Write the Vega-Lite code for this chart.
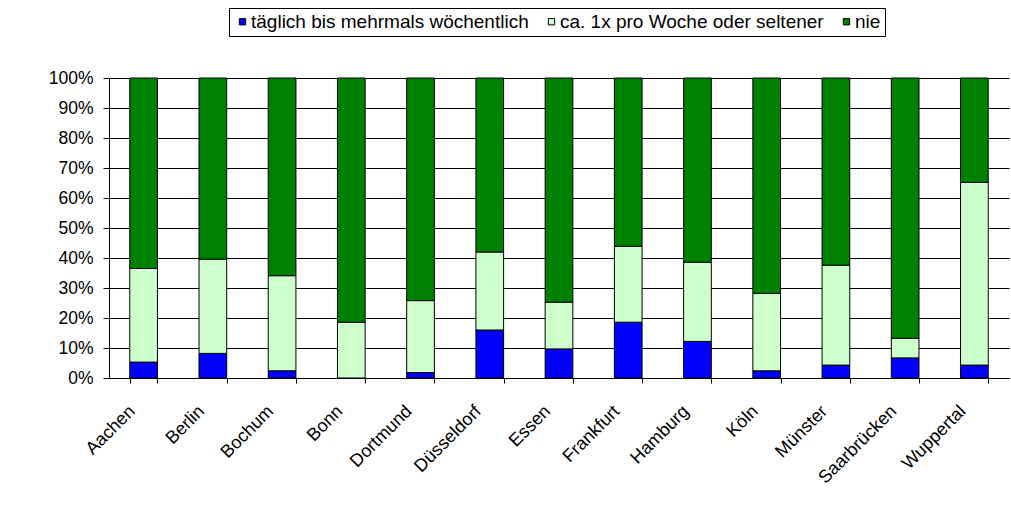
{
  "$schema": "https://vega.github.io/schema/vega-lite/v6.json",
  "width": 900,
  "height": 300,
  "autosize": {"type": "none"},
  "padding": {"left": 109, "top": 78, "right": 2, "bottom": 129},
  "background": "white",
  "config": {
    "font": "Liberation Sans",
    "view": {"stroke": null},
    "axis": {
      "labelFont": "Liberation Sans",
      "labelFontSize": 17.5,
      "labelColor": "black",
      "domainColor": "black",
      "tickColor": "black",
      "gridColor": "black",
      "gridOpacity": 1,
      "title": null
    }
  },
  "data": {
    "values": [
      {"stadt": "Aachen", "kat": "täglich bis mehrmals wöchentlich", "k": 1, "wert": 5.3},
      {"stadt": "Aachen", "kat": "ca. 1x pro Woche oder seltener", "k": 2, "wert": 31.2},
      {"stadt": "Aachen", "kat": "nie", "k": 3, "wert": 63.5},
      {"stadt": "Berlin", "kat": "täglich bis mehrmals wöchentlich", "k": 1, "wert": 8.2},
      {"stadt": "Berlin", "kat": "ca. 1x pro Woche oder seltener", "k": 2, "wert": 31.4},
      {"stadt": "Berlin", "kat": "nie", "k": 3, "wert": 60.4},
      {"stadt": "Bochum", "kat": "täglich bis mehrmals wöchentlich", "k": 1, "wert": 2.4},
      {"stadt": "Bochum", "kat": "ca. 1x pro Woche oder seltener", "k": 2, "wert": 31.7},
      {"stadt": "Bochum", "kat": "nie", "k": 3, "wert": 65.9},
      {"stadt": "Bonn", "kat": "täglich bis mehrmals wöchentlich", "k": 1, "wert": 0},
      {"stadt": "Bonn", "kat": "ca. 1x pro Woche oder seltener", "k": 2, "wert": 18.6},
      {"stadt": "Bonn", "kat": "nie", "k": 3, "wert": 81.4},
      {"stadt": "Dortmund", "kat": "täglich bis mehrmals wöchentlich", "k": 1, "wert": 1.8},
      {"stadt": "Dortmund", "kat": "ca. 1x pro Woche oder seltener", "k": 2, "wert": 24.0},
      {"stadt": "Dortmund", "kat": "nie", "k": 3, "wert": 74.2},
      {"stadt": "Düsseldorf", "kat": "täglich bis mehrmals wöchentlich", "k": 1, "wert": 16.0},
      {"stadt": "Düsseldorf", "kat": "ca. 1x pro Woche oder seltener", "k": 2, "wert": 26.0},
      {"stadt": "Düsseldorf", "kat": "nie", "k": 3, "wert": 58.0},
      {"stadt": "Essen", "kat": "täglich bis mehrmals wöchentlich", "k": 1, "wert": 9.7},
      {"stadt": "Essen", "kat": "ca. 1x pro Woche oder seltener", "k": 2, "wert": 15.6},
      {"stadt": "Essen", "kat": "nie", "k": 3, "wert": 74.7},
      {"stadt": "Frankfurt", "kat": "täglich bis mehrmals wöchentlich", "k": 1, "wert": 18.6},
      {"stadt": "Frankfurt", "kat": "ca. 1x pro Woche oder seltener", "k": 2, "wert": 25.3},
      {"stadt": "Frankfurt", "kat": "nie", "k": 3, "wert": 56.1},
      {"stadt": "Hamburg", "kat": "täglich bis mehrmals wöchentlich", "k": 1, "wert": 12.2},
      {"stadt": "Hamburg", "kat": "ca. 1x pro Woche oder seltener", "k": 2, "wert": 26.4},
      {"stadt": "Hamburg", "kat": "nie", "k": 3, "wert": 61.4},
      {"stadt": "Köln", "kat": "täglich bis mehrmals wöchentlich", "k": 1, "wert": 2.4},
      {"stadt": "Köln", "kat": "ca. 1x pro Woche oder seltener", "k": 2, "wert": 25.8},
      {"stadt": "Köln", "kat": "nie", "k": 3, "wert": 71.8},
      {"stadt": "Münster", "kat": "täglich bis mehrmals wöchentlich", "k": 1, "wert": 4.3},
      {"stadt": "Münster", "kat": "ca. 1x pro Woche oder seltener", "k": 2, "wert": 33.3},
      {"stadt": "Münster", "kat": "nie", "k": 3, "wert": 62.4},
      {"stadt": "Saarbrücken", "kat": "täglich bis mehrmals wöchentlich", "k": 1, "wert": 6.7},
      {"stadt": "Saarbrücken", "kat": "ca. 1x pro Woche oder seltener", "k": 2, "wert": 6.5},
      {"stadt": "Saarbrücken", "kat": "nie", "k": 3, "wert": 86.8},
      {"stadt": "Wuppertal", "kat": "täglich bis mehrmals wöchentlich", "k": 1, "wert": 4.3},
      {"stadt": "Wuppertal", "kat": "ca. 1x pro Woche oder seltener", "k": 2, "wert": 60.9},
      {"stadt": "Wuppertal", "kat": "nie", "k": 3, "wert": 34.8}
    ]
  },
  "mark": {"type": "bar", "stroke": "black", "strokeWidth": 1},
  "encoding": {
    "x": {
      "field": "stadt",
      "type": "nominal",
      "sort": null,
      "scale": {"paddingInner": 0.6, "paddingOuter": 0.3},
      "axis": {
        "labelAngle": -45,
        "labelAlign": "right",
        "labelBaseline": "top",
        "labelFontSize": 18,
        "labelPadding": 19,
        "labelOffset": -18,
        "labelOverlap": false,
        "labelLimit": 0,
        "tickBand": "extent",
        "tickSize": 5,
        "grid": false
      }
    },
    "y": {
      "field": "wert",
      "type": "quantitative",
      "stack": "normalize",
      "scale": {"domain": [0, 1], "nice": false},
      "axis": {
        "format": ".0%",
        "values": [0, 0.1, 0.2, 0.3, 0.4, 0.5, 0.6, 0.7, 0.8, 0.9, 1],
        "labelOverlap": false,
        "labelFlush": false,
        "grid": true,
        "tickSize": 6,
        "labelPadding": 10
      }
    },
    "order": {"field": "k", "type": "quantitative"},
    "color": {
      "field": "kat",
      "type": "nominal",
      "sort": ["täglich bis mehrmals wöchentlich", "ca. 1x pro Woche oder seltener", "nie"],
      "scale": {
        "domain": ["täglich bis mehrmals wöchentlich", "ca. 1x pro Woche oder seltener", "nie"],
        "range": ["#0000FF", "#CCFFCC", "#008000"]
      },
      "legend": {
        "orient": "none",
        "legendX": 120,
        "legendY": -70,
        "direction": "horizontal",
        "title": null,
        "strokeColor": "black",
        "fillColor": "white",
        "padding": 4,
        "symbolType": "square",
        "symbolSize": 40,
        "symbolStrokeColor": "black",
        "symbolStrokeWidth": 1,
        "symbolOpacity": 1,
        "labelFont": "Liberation Sans",
        "labelFontSize": 19,
        "labelColor": "black",
        "labelLimit": 0,
        "labelOffset": -1,
        "columnPadding": 13
      }
    }
  }
}
